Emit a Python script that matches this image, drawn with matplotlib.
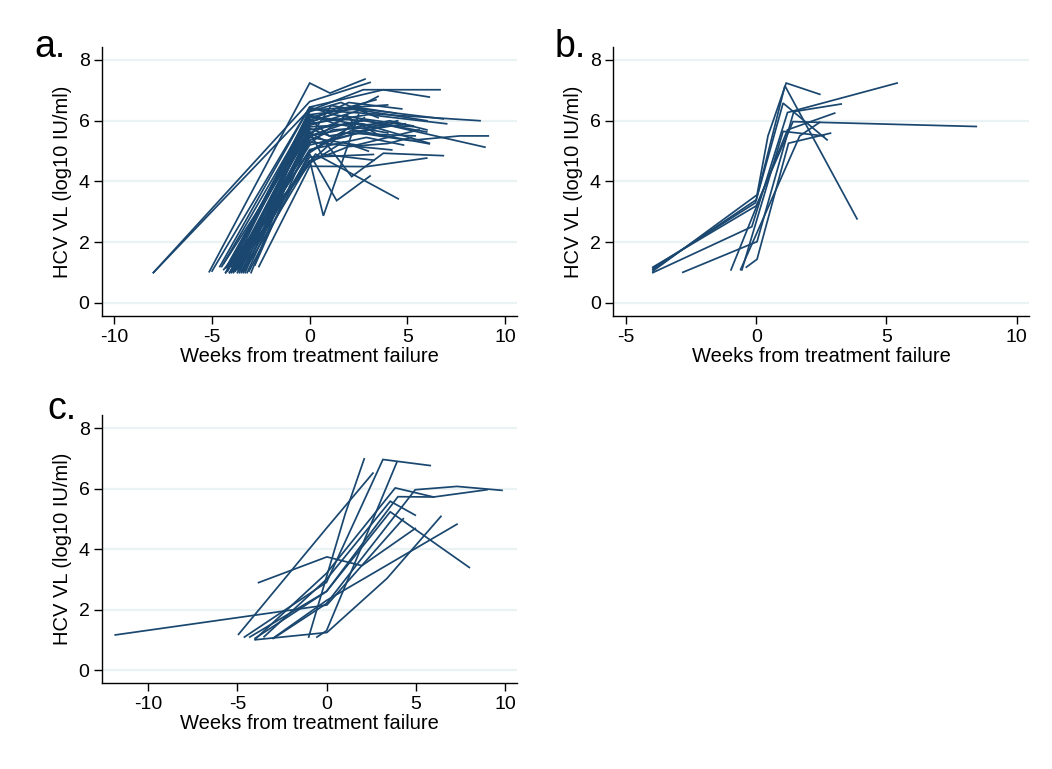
import matplotlib
matplotlib.use("Agg")
from matplotlib import pyplot as plt

plt.rcParams['font.family'] = ['Liberation Sans', 'DejaVu Sans']
plt.rcParams['axes.unicode_minus'] = False

# HCV viral load trajectories around treatment failure, one list pair per patient
# panel a
weeks_a = [
    [-5.14, 0.0, 1.04, 2.83],
    [-8.0, 0.0, 3.09],
    [-8.0, -0.1, 2.74, 6.67],
    [-5.0, 0.0, 3.77, 6.12],
    [-3.9, 0.0, 0.7, 2.5],
    [-3.5, 0.0, 1.38, 3.09],
    [-4.1, 0.3, 4.53],
    [-3.2, 0.0, 0.7, 2.15, 3.77, 6.84],
    [-2.6, 0.0, 2.92, 5.99],
    [-4.3, 0.0, 3.39],
    [-4.0, 0.0, 3.99],
    [-3.8, 0.0, 2.0, 4.71],
    [-3.6, 0.0, 2.5, 6.84],
    [-4.2, 0.0, 3.0, 7.01],
    [-3.4, 0.0, 1.5, 8.72],
    [-4.4, 0.0, 2.8, 5.99],
    [-3.7, 0.0, 1.8, 5.27],
    [-4.1, 0.0, 2.5, 5.1, 7.69, 9.14],
    [-3.3, 0.0, 3.0, 8.97],
    [-3.9, 0.0, 2.2, 6.12],
    [-4.6, 0.0, 1.2, 5.3],
    [-3.0, 0.0, 2.7, 6.12],
    [-4.0, 0.0, 4.2],
    [-3.6, 0.0, 3.26],
    [-4.3, 0.0, 1.6, 3.5],
    [-3.8, 0.0, 2.3, 4.4],
    [-4.2, 0.0, 1.0, 4.9],
    [-3.5, 0.0, 2.0, 3.6],
    [-4.0, 0.0, 1.4, 4.5],
    [-3.3, 0.0, 2.4, 5.6],
    [-4.4, 0.0, 1.7, 3.0],
    [-3.9, 0.0, 2.9, 4.8],
    [-2.8, 0.0, 1.2, 3.8],
    [-4.2, 0.0, 3.2, 4.5],
    [-3.7, 0.0, 2.6, 6.0],
    [-4.0, 0.2, 2.2],
    [-3.5, -0.2, 1.9, 2.3],
    [-4.1, 0.0, 0.6, 3.3],
    [-3.1, 0.0, 2.8],
    [-4.5, 0.0, 1.3, 4.0],
    [-3.8, 0.0, 4.1, 6.0],
    [-4.3, 0.0, 1.6, 5.4],
    [-3.4, 0.0, 2.0, 4.0, 5.2],
    [-3.9, 0.0, 2.9, 3.5],
    [-3.6, 0.0, 1.1, 2.9],
]
vl_a = [
    [1.03, 7.24, 6.91, 7.37],
    [1.0, 6.63, 7.26],
    [1.0, 6.31, 7.02, 7.02],
    [1.05, 6.45, 7.02, 6.78],
    [1.0, 4.7, 2.87, 6.2],
    [1.0, 4.9, 3.37, 4.18],
    [1.2, 4.9, 3.43],
    [1.0, 5.6, 5.37, 4.16, 4.93, 4.85],
    [1.2, 4.5, 4.49, 4.77],
    [1.15, 6.1, 6.69],
    [1.1, 6.35, 6.52],
    [1.05, 6.0, 6.6, 6.39],
    [1.0, 6.2, 6.4, 6.06],
    [1.2, 5.9, 6.2, 5.9],
    [1.05, 6.4, 6.3, 6.0],
    [1.3, 5.7, 6.0, 5.63],
    [1.1, 5.5, 5.9, 5.81],
    [1.0, 5.2, 5.6, 5.35, 5.5, 5.5],
    [1.0, 6.1, 6.0, 5.13],
    [1.2, 5.0, 5.7, 5.24],
    [1.2, 6.45, 6.2, 5.83],
    [1.0, 5.8, 5.9, 5.26],
    [1.05, 5.3, 5.04],
    [1.1, 4.8, 4.89],
    [1.0, 6.3, 6.6, 6.1],
    [1.15, 5.95, 6.45, 6.25],
    [1.05, 6.05, 5.5, 5.9],
    [1.2, 5.6, 6.1, 5.5],
    [1.0, 5.75, 5.4, 5.95],
    [1.1, 5.45, 5.2, 5.7],
    [1.1, 4.6, 5.3, 5.0],
    [1.05, 5.05, 5.45, 5.2],
    [1.25, 5.35, 5.7, 5.8],
    [1.15, 6.15, 5.8, 6.0],
    [1.0, 5.85, 6.35, 6.0],
    [1.2, 4.75, 5.9],
    [1.05, 5.15, 6.2, 5.85],
    [1.0, 5.65, 4.9, 4.7],
    [1.05, 4.95, 6.1],
    [1.2, 6.2, 5.9, 5.6],
    [1.1, 5.5, 6.0, 5.7],
    [1.0, 5.0, 5.6, 5.5],
    [1.0, 4.65, 5.15, 5.25, 5.45],
    [1.15, 5.95, 6.6, 6.8],
    [1.2, 5.45, 6.5, 6.3],
]

# panel b
weeks_b = [
    [-3.97, 0.03, 0.45, 1.15, 2.44],
    [-3.97, 0.0, 1.03, 2.72],
    [-3.97, -0.03, 1.1, 3.87],
    [-3.97, 0.0, 1.41, 8.45],
    [-3.97, -0.17, 1.2, 5.41],
    [-2.82, 0.03, 1.44, 3.26],
    [-0.97, 1.2, 3.01],
    [-0.55, 1.03, 2.6],
    [-0.38, 0.03, 1.24, 2.85],
    [-0.6, 1.67, 2.44],
]
vl_b = [
    [1.05, 3.56, 5.5, 7.24, 6.87],
    [1.1, 3.4, 6.58, 5.37],
    [1.15, 3.3, 7.15, 2.77],
    [1.18, 3.2, 5.97, 5.81],
    [1.0, 2.51, 6.27, 7.24],
    [1.01, 2.02, 6.3, 6.55],
    [1.09, 5.7, 6.25],
    [1.09, 5.65, 5.5],
    [1.18, 1.44, 5.26, 5.59],
    [1.1, 5.5, 5.95],
]

# panel c
weeks_c = [
    [-11.84, 0.02, 4.3],
    [-3.81, 0.02, 1.98, 4.97],
    [-1.0, 1.05, 2.11],
    [-4.93, 0.0, 2.6],
    [-4.6, 0.0, 3.16, 5.81],
    [-0.54, 0.0, 3.94],
    [-4.0, 0.0, 3.85, 6.0, 8.99],
    [-4.3, 0.0, 4.0, 6.0],
    [-2.97, 0.0, 4.97, 7.31, 9.83],
    [-3.5, 0.0, 3.57, 4.97],
    [-4.0, 0.0, 3.57, 8.0],
    [-4.0, 0.02, 3.39, 6.41],
    [-3.0, 0.0, 7.31],
]
vl_c = [
    [1.16, 2.15, 5.0],
    [2.89, 3.74, 3.45, 4.68],
    [1.09, 5.17, 6.98],
    [1.18, 4.69, 6.51],
    [1.09, 2.9, 6.96, 6.76],
    [1.09, 1.3, 6.87],
    [1.02, 3.2, 6.02, 5.72, 5.96],
    [1.09, 2.6, 5.73, 5.72],
    [1.05, 2.2, 5.96, 6.07, 5.94],
    [1.1, 3.0, 5.58, 5.12],
    [1.05, 2.6, 5.23, 3.39],
    [1.0, 1.24, 3.03, 5.08],
    [1.05, 2.3, 4.82],
]

line_col = '#1a476f'
grid_col = '#eaf2f3'

fig = plt.figure(figsize=(10.52, 7.69), dpi=100)
fig.patch.set_facecolor('white')

def draw_panel(rect, weeks, vl, xlim, xticks):
    ax = fig.add_axes(rect)
    for w, v in zip(weeks, vl):
        ax.plot(w, v, color=line_col, lw=1.25, solid_joinstyle='miter')
    ax.set_xlim(xlim)
    ax.set_ylim(-0.43, 8.43)
    ax.set_xticks(xticks)
    ax.set_yticks([0, 2, 4, 6, 8])
    for yv in [0, 2, 4, 6, 8]:
        ax.axhline(yv, color=grid_col, lw=1.6, zorder=0)
    ax.spines['top'].set_visible(False)
    ax.spines['right'].set_visible(False)
    ax.spines['left'].set_linewidth(1.0)
    ax.spines['bottom'].set_linewidth(1.0)
    ax.tick_params(direction='out', length=6, width=1.0, labelsize=14, pad=3)
    ax.set_xlabel('Weeks from treatment failure', fontsize=14.5, labelpad=1)
    ax.set_ylabel('HCV VL (log10 IU/ml)', fontsize=14.5, labelpad=5)
    return ax

draw_panel([0.097, 0.589, 0.3944, 0.350], weeks_a, vl_a, (-10.63, 10.61), [-10, -5, 0, 5, 10])
draw_panel([0.583, 0.589, 0.395, 0.350], weeks_b, vl_b, (-5.49, 10.47), [-5, 0, 5, 10])
draw_panel([0.097, 0.1118, 0.3944, 0.3485], weeks_c, vl_c, (-12.58, 10.67), [-10, -5, 0, 5, 10])

fig.text(34 / 1052, 1 - 57 / 769, 'a.', fontsize=27, va='baseline')
fig.text(555 / 1052, 1 - 57 / 769, 'b.', fontsize=27, va='baseline')
fig.text(47 / 1052, 1 - 419 / 769, 'c.', fontsize=27, va='baseline')

fig.savefig('out.png', dpi=100)
